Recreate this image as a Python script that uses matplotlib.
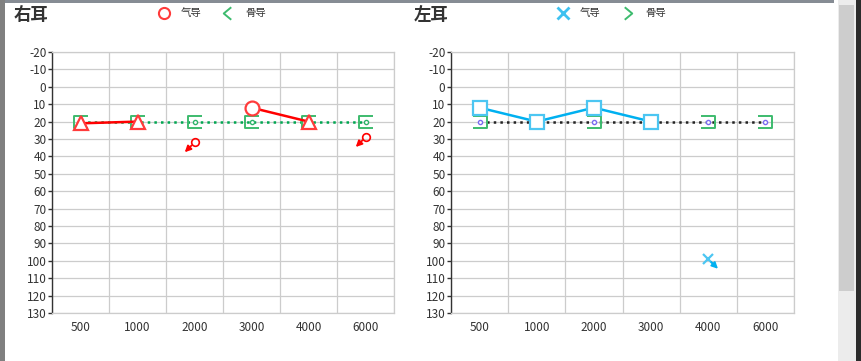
import numpy as np
import matplotlib.pyplot as plt
from matplotlib.path import Path

plt.rcParams['font.family'] = ['Noto Sans CJK SC', 'DejaVu Sans']

freqs = ['500', '1000', '2000', '3000', '4000', '6000']
yticks = list(range(-20, 131, 10))

# right ear
right_air = [21, 20, 32, 12, 20, 29]
right_air_kind = ['tri', 'tri', 'nr', 'circle', 'tri', 'nr']
right_bone = [20, 20, 20, 20, 20, 20]

# left ear
left_air = [12, 20, 12, 20, 99, None]
left_air_kind = ['square', 'square', 'square', 'square', 'nr', None]
left_bone = [20, 20, 20, 20, 20, 20]

GRID = '#cccccc'
TXT = '#333333'

bracket_l = Path([(0.5, 0.45), (-0.5, 0.45), (-0.5, -0.45), (0.5, -0.45)],
                 [Path.MOVETO, Path.LINETO, Path.LINETO, Path.LINETO])
bracket_r = Path([(-0.5, 0.45), (0.5, 0.45), (0.5, -0.45), (-0.5, -0.45)],
                 [Path.MOVETO, Path.LINETO, Path.LINETO, Path.LINETO])

fig = plt.figure(figsize=(8.61, 3.61), dpi=100)


def setup_axes(ax):
    x = np.arange(len(freqs))
    ax.set_xlim(-0.5, len(freqs) - 0.5)
    ax.set_ylim(130, -20)
    ax.set_yticks(yticks)
    ax.set_yticklabels([str(t) for t in yticks], fontsize=8.5, color=TXT)
    ax.set_xticks(x)
    ax.set_xticklabels(freqs, fontsize=8.5, color=TXT)
    ax.set_xticks(np.arange(len(freqs) + 1) - 0.5, minor=True)
    ax.tick_params(axis='x', which='both', length=0, pad=6)
    ax.tick_params(axis='y', length=3, width=1, color='#333333', pad=1)
    ax.grid(True, axis='y', color=GRID, lw=0.9)
    ax.grid(True, axis='x', which='minor', color=GRID, lw=0.9)
    ax.grid(False, axis='x', which='major')
    for s in ['top', 'right', 'bottom']:
        ax.spines[s].set_color(GRID)
        ax.spines[s].set_linewidth(0.9)
    ax.spines['left'].set_color('#333333')
    ax.spines['left'].set_linewidth(1)
    ax.set_axisbelow(True)


def draw_air(ax, vals, kinds, color, edge, nr_marker, nr_dir):
    x = np.arange(len(vals))
    # connecting segments between responsive neighbours
    for i in range(len(vals) - 1):
        if kinds[i] not in (None, 'nr') and kinds[i + 1] not in (None, 'nr'):
            ax.plot([x[i], x[i + 1]], [vals[i], vals[i + 1]], color=color, lw=1.8, zorder=4)
    mk = {'tri': '^', 'circle': 'o', 'square': 's'}
    for i, (v, k) in enumerate(zip(vals, kinds)):
        if k is None:
            continue
        if k == 'nr':
            if nr_marker == 'o':
                ax.plot(x[i], v, 'o', ms=5.5, mfc='none', mec=color, mew=1.2, zorder=6)
            else:
                ax.plot(x[i], v, 'x', ms=6.5, mec=edge, mew=1.6, zorder=6)
            ax.annotate('', xy=(x[i], v), xytext=nr_dir, textcoords='offset points',
                        arrowprops=dict(arrowstyle='<|-', color=color, lw=1.3,
                                        mutation_scale=9, shrinkA=0, shrinkB=3),
                        zorder=6)
        else:
            ax.plot(x[i], v, mk[k], ms=10 if k != 'tri' else 10.5, mfc='white',
                    mec=edge, mew=1.6, zorder=5)


def draw_bone(ax, vals, bracket, line_color, dot_color):
    x = np.arange(len(vals))
    ax.plot(x, vals, ':', color=line_color, lw=1.8, zorder=3)
    ax.plot(x, vals, 'o', ms=3, mfc='white', mec=dot_color, mew=1, zorder=3)
    ax.plot(x, vals, ls='none', marker=bracket, ms=10, mfc='none',
            mec='#3dbb6e', mew=1.4, zorder=3)


axR = fig.add_axes([52 / 861, 1 - 313 / 361, 342 / 861, 261 / 361])
setup_axes(axR)
draw_bone(axR, right_bone, bracket_l, '#00a651', '#2fb36a')
draw_air(axR, right_air, right_air_kind, '#ff0000', '#ff3b3b', 'o', (-7, -7))

axL = fig.add_axes([451 / 861, 1 - 313 / 361, 343 / 861, 261 / 361])
setup_axes(axL)
draw_bone(axL, left_bone, bracket_r, '#222222', '#7b6cf0')
draw_air(axL, left_air, left_air_kind, '#00b0f0', '#4cc6f2', 'x', (7, -7))

# frame, titles and legends in pixel space
ov = fig.add_axes([0, 0, 1, 1], zorder=-1)
ov.set_xlim(0, 861)
ov.set_ylim(361, 0)
ov.axis('off')
ov.add_patch(plt.Rectangle((0, 0), 834, 3, color='#868c94', lw=0))
ov.add_patch(plt.Rectangle((0, 0), 5, 361, color='#808080', lw=0))
ov.add_patch(plt.Rectangle((838, 0), 18, 361, color='#ececec', lw=0))
ov.add_patch(plt.Rectangle((839, 5), 15, 286, color='#cdcdcd', lw=0))
ov.add_patch(plt.Rectangle((856, 0), 5, 361, color='#2b2b2b', lw=0))

ov2 = fig.add_axes([0, 0, 1, 1], zorder=10)
ov2.set_xlim(0, 861)
ov2.set_ylim(361, 0)
ov2.axis('off')
ov2.text(14, 15, '右耳', fontsize=12.5, fontweight='bold', color=TXT, va='center')
ov2.text(414, 15, '左耳', fontsize=12.5, fontweight='bold', color=TXT, va='center')

ov2.plot(164, 13, 'o', ms=8, mfc='white', mec='#ff3b3b', mew=1.5)
ov2.text(181, 13, '气导', fontsize=7.5, color=TXT, va='center')
ov2.plot(227, 13, ls='none', marker=Path([(0.3, 0.5), (-0.3, 0), (0.3, -0.5)]),
         ms=9, mfc='none', mec='#3dbb6e', mew=1.4)
ov2.text(245, 13, '骨导', fontsize=7.5, color=TXT, va='center')

ov2.plot(563, 13, 'x', ms=8, mec='#3ec1f0', mew=2)
ov2.text(580, 13, '气导', fontsize=7.5, color=TXT, va='center')
ov2.plot(628, 13, ls='none', marker=Path([(-0.3, 0.5), (0.3, 0), (-0.3, -0.5)]),
         ms=9, mfc='none', mec='#3dbb6e', mew=1.4)
ov2.text(645, 13, '骨导', fontsize=7.5, color=TXT, va='center')

fig.savefig('out.png', dpi=100)
